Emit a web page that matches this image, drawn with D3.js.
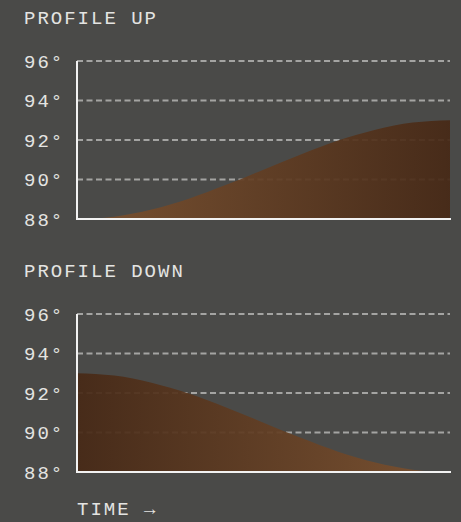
<!DOCTYPE html>
<html lang="en">
<head>
<meta charset="UTF-8">
<title>Profiles</title>
<script src="https://d3js.org/d3.v7.min.js"></script>
<style>
    html, body { margin: 0; padding: 0; background: #4a4a48; }
    svg { display: block; }
    text { font-family: 'Liberation Mono', monospace; fill: #e4e4e2; font-size: 19px; letter-spacing: 2px; }
</style>
</head>
<body>
<div id="chart"></div>
<script>
    // time steps (0..1) and temperatures
    var time = [0, 0.1, 0.2, 0.3, 0.4, 0.5, 0.6, 0.7, 0.8, 0.9, 1.0];
    var profileUp = [88.0, 88.12, 88.48, 89.03, 89.73, 90.5, 91.27, 91.97, 92.52, 92.88, 93.0];
    var profileDown = [93.0, 92.88, 92.52, 91.97, 91.27, 90.5, 89.73, 89.03, 88.48, 88.12, 88.0];
    var yTicks = [88, 90, 92, 94, 96];

    var width = 461, height = 522;
    var svg = d3.select("#chart").append("svg")
        .attr("width", width)
        .attr("height", height);

    var defs = svg.append("defs");
    function gradient(id, from, to) {
        var g = defs.append("linearGradient").attr("id", id)
            .attr("x1", "0%").attr("x2", "100%").attr("y1", "0%").attr("y2", "0%");
        g.append("stop").attr("offset", "0%").attr("stop-color", from);
        g.append("stop").attr("offset", "100%").attr("stop-color", to);
    }
    gradient("gradUp", "#7c5230", "#472916");
    gradient("gradDown", "#472916", "#7c5230");

    var x = d3.scaleLinear().domain([0, 1]).range([77, 450]);

    function panel(title, values, top, gradId) {
        var y = d3.scaleLinear().domain([88, 96]).range([top + 158, top]);
        var g = svg.append("g");

        g.append("text")
            .attr("x", 24).attr("y", top - 37)
            .text(title);

        // dashed grid
        g.selectAll("line.grid")
            .data(yTicks.filter(d => d > 88))
            .enter().append("line")
            .attr("class", "grid")
            .attr("x1", x(0)).attr("x2", x(1))
            .attr("y1", d => y(d)).attr("y2", d => y(d))
            .attr("stroke", "#a4a4a2")
            .attr("stroke-width", 1.8)
            .attr("stroke-dasharray", "6,3.5");

        var data = time.map((t, i) => ({ t: t, v: values[i] }));
        var area = d3.area()
            .x(d => x(d.t))
            .y0(y(88))
            .y1(d => y(d.v))
            .curve(d3.curveMonotoneX);
        g.append("path")
            .datum(data)
            .attr("d", area)
            .attr("fill", "url(#" + gradId + ")")
            .attr("fill-opacity", 0.93);

        // axis lines
        g.append("line")
            .attr("x1", x(0)).attr("x2", x(0))
            .attr("y1", y(96)).attr("y2", y(88))
            .attr("stroke", "#f2f2f2").attr("stroke-width", 2);
        g.append("line")
            .attr("x1", x(0) - 1).attr("x2", x(1) + 1)
            .attr("y1", y(88)).attr("y2", y(88))
            .attr("stroke", "#f2f2f2").attr("stroke-width", 2);

        g.selectAll("text.tick")
            .data(yTicks)
            .enter().append("text")
            .attr("class", "tick")
            .attr("x", 24)
            .attr("y", d => y(d))
            .attr("dy", "0.36em")
            .text(d => d + "°");
    }

    panel("PROFILE UP", profileUp, 61, "gradUp");
    panel("PROFILE DOWN", profileDown, 314, "gradDown");

    svg.append("text")
        .attr("x", 77).attr("y", 515)
        .text("TIME →");
</script>
</body>
</html>
